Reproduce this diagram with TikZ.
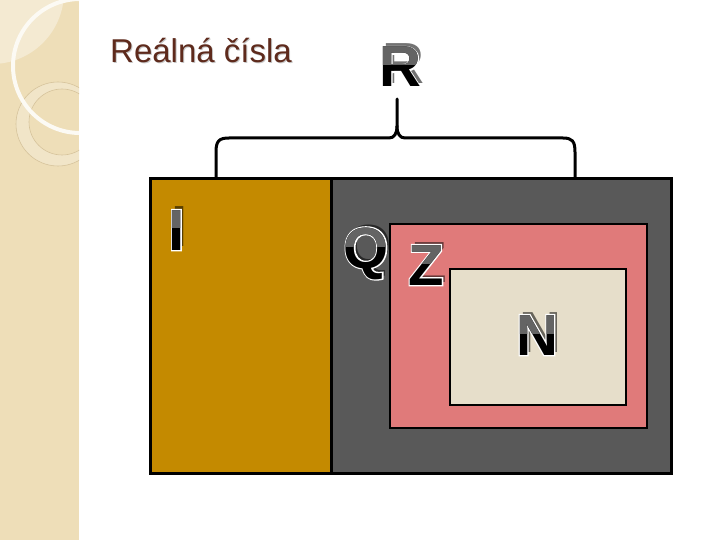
\documentclass[tikz,border=0pt]{standalone}
\usepackage{fontspec}
\setmainfont{Liberation Sans}
\definecolor{strip}{HTML}{EEDEB8}
\definecolor{stripl}{HTML}{F4EAD2}
\definecolor{stripc}{HTML}{D6C39B}
\definecolor{goldc}{HTML}{C48A00}
\definecolor{grayc}{HTML}{595959}
\definecolor{pinkc}{HTML}{E07A7A}
\definecolor{beigec}{HTML}{E6DECA}
\definecolor{titlec}{HTML}{5E2A1C}
\definecolor{lettergray}{HTML}{646464}
\tikzset{
  bigl/.style={font=\fontsize{58}{60}\selectfont\bfseries, anchor=base, inner sep=0pt},
  boxline/.style={draw=black, line width=3pt},
  braceline/.style={draw=black, line width=3pt, line cap=round, line join=round},
}
\newcommand\strokedonly[1]{\special{pdf:literal 1 Tr 1 1 1 RG 2.6 w}#1\special{pdf:literal 0 Tr}}
\newcommand\fancyletter[4]{%
  \node[bigl,text=black,opacity=0.55] at (#2+3,#3-3) {#4};
  \node[bigl,text=white] at (#2,#3) {\strokedonly{#4}};
  \node[bigl,text=black] (#1) at (#2,#3) {#4};
  \begin{scope}
    \clip (#2-40,#3-22) rectangle (#2+40,#3-70);
    \node[bigl,text=lettergray] at (#2,#3) {#4};
  \end{scope}
}
\begin{document}
\begin{tikzpicture}[x=1pt,y=-1pt]
\useasboundingbox (0,0) rectangle (720,540);
% left decorative strip
\begin{scope}
  \clip (0,0) rectangle (79,540);
  \fill[strip] (0,0) rectangle (79,540);
  \fill[stripl] (-8,-8) circle (72);
  \fill[stripl!60!strip, even odd rule] (58,124) circle (42) (62,122) circle (33);
  \draw[stripc, line width=0.6pt] (58,124) circle (42);
  \draw[stripc, line width=0.6pt] (62,122) circle (33);
  \draw[white!85!strip, line width=4pt] (80,66) circle (67);
\end{scope}
% title
\node[anchor=base west, inner sep=0pt, font=\fontsize{33}{38}\selectfont, text=black!22] at (111,64) {Reálná čísla};
\node[anchor=base west, inner sep=0pt, font=\fontsize{33}{38}\selectfont, text=titlec] (title) at (110,63) {Reálná čísla};
% boxes
\fill[goldc] (150,179) rectangle (331,473);
\fill[grayc] (331,179) rectangle (671,473);
\draw[boxline] (150,179) rectangle (671,473);
\draw[boxline] (331,179) -- (331,473);
\draw[boxline, fill=pinkc, line width=2.6pt] (390,224) rectangle (647,428);
\draw[boxline, fill=beigec, line width=2.6pt] (450,269) rectangle (626,405);
% brace
\coordinate (bl) at (216,178);
\coordinate (br) at (575,178);
\coordinate (bt) at (397,99);
\draw[braceline] (bl) -- (216,152) .. controls (216,141) and (219,138) .. (229,138)
  -- (389,138) .. controls (394,138) and (397,134) .. (397,126) -- (bt);
\draw[braceline] (397,126) .. controls (397,134) and (400,138) .. (405,138)
  -- (563,138) .. controls (572,138) and (575,141) .. (575,152) -- (br);
% letters
\fancyletter{R}{400}{87}{R}
\fancyletter{I}{176.5}{250}{I}
\fancyletter{Q}{366}{268}{Q}
\fancyletter{Z}{426}{285}{Z}
\fancyletter{N}{537}{355}{N}
\end{tikzpicture}
\end{document}
